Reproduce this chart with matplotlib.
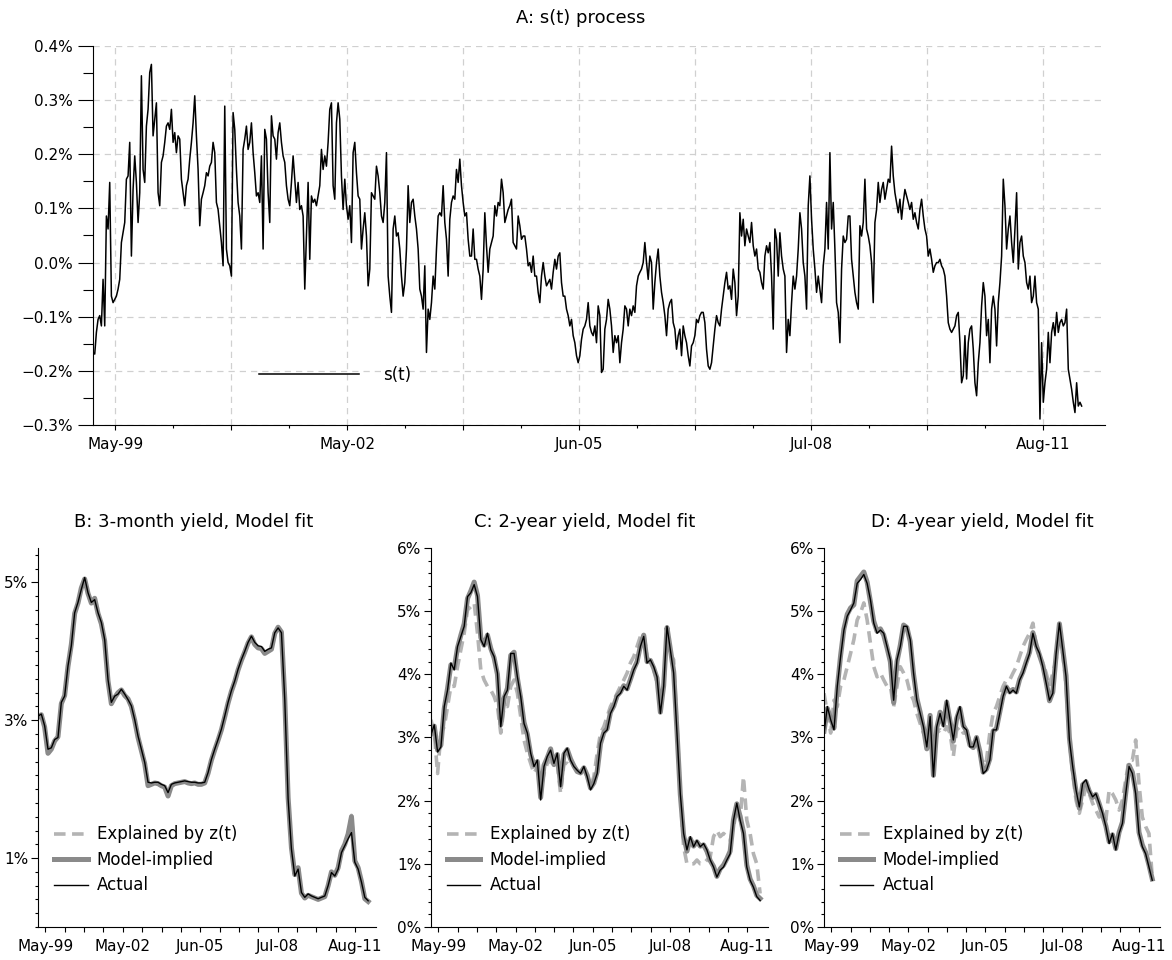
import matplotlib
matplotlib.use("Agg")
import matplotlib.pyplot as plt
import matplotlib.dates as mdates
from matplotlib.ticker import FixedLocator, FixedFormatter, MultipleLocator, FuncFormatter
import numpy as np
import pandas as pd

plt.rcParams["font.family"] = ["DejaVu Sans"]

# sample range of the series and the labelled dates on the time axis
FIRST_DAY = "1999-01-21"
LAST_DAY = "2012-02-06"
AXIS_END = "2012-05-29"
TICK_DATES = ["1999-05-08", "2002-05-30", "2005-06-20", "2008-07-12", "2011-08-03"]
TICK_LABELS = ["May-99", "May-02", "Jun-05", "Jul-08", "Aug-11"]

# A: s(t) process, in percent
s_t = [
    -0.166, -0.169, -0.129, -0.105, -0.098, -0.117, -0.031, -0.117, 0.086, 0.062,
    0.148, -0.062, -0.074, -0.068, -0.062, -0.049, -0.031, 0.037, 0.055, 0.074,
    0.154, 0.160, 0.222, 0.012, 0.135, 0.197, 0.148, 0.074, 0.129, 0.345,
    0.172, 0.148, 0.252, 0.283, 0.351, 0.366, 0.234, 0.265, 0.295, 0.129,
    0.105, 0.185, 0.197, 0.222, 0.252, 0.258, 0.246, 0.283, 0.222, 0.240,
    0.203, 0.234, 0.228, 0.154, 0.129, 0.105, 0.142, 0.154, 0.191, 0.222,
    0.258, 0.308, 0.234, 0.172, 0.068, 0.117, 0.129, 0.142, 0.166, 0.160,
    0.178, 0.185, 0.222, 0.203, 0.111, 0.098, 0.068, 0.037, -0.006, 0.289,
    0.025, 0.000, -0.006, -0.025, 0.277, 0.246, 0.172, 0.111, 0.086, 0.025,
    0.209, 0.228, 0.252, 0.209, 0.222, 0.258, 0.203, 0.166, 0.123, 0.129,
    0.111, 0.197, 0.025, 0.246, 0.228, 0.129, 0.074, 0.271, 0.234, 0.228,
    0.191, 0.240, 0.258, 0.222, 0.197, 0.185, 0.142, 0.117, 0.105, 0.148,
    0.197, 0.154, 0.111, 0.148, 0.098, 0.105, 0.086, -0.049, 0.049, 0.148,
    0.006, 0.123, 0.111, 0.117, 0.105, 0.123, 0.142, 0.209, 0.172, 0.197,
    0.178, 0.222, 0.283, 0.295, 0.142, 0.117, 0.258, 0.295, 0.265, 0.160,
    0.098, 0.154, 0.105, 0.080,
    0.105, 0.037, 0.203, 0.222, 0.166, 0.123, 0.117, 0.025, 0.062, 0.092,
    0.049, -0.043, -0.012, 0.129, 0.123, 0.117, 0.178, 0.160, 0.129, 0.086,
    0.074, 0.111, 0.203, -0.025, -0.062, -0.092, 0.062, 0.086, 0.049, 0.055,
    0.025, -0.025, -0.062, -0.037, 0.025, 0.142, 0.074, 0.111, 0.117, 0.086,
    0.062, 0.025, -0.049, -0.062, -0.086, -0.006, -0.166, -0.086, -0.105, -0.074,
    -0.025, -0.049, 0.025, 0.086, 0.092, 0.086, 0.142, 0.074, 0.043, -0.025,
    0.080, 0.111, 0.123, 0.117, 0.172, 0.148, 0.191, 0.142, 0.111, 0.086,
    0.092, 0.043, 0.012, 0.012, 0.062, 0.006, 0.006, -0.012, -0.025, -0.068,
    -0.012, 0.092, 0.031, -0.018, 0.025, 0.037, 0.049, 0.105, 0.086, 0.111,
    0.105, 0.154, 0.129, 0.074, 0.086, 0.098, 0.105, 0.117, 0.037, 0.031,
    0.025, 0.086, 0.068, 0.043, 0.049, 0.049, 0.025, -0.006, 0.000, -0.018,
    0.012, -0.025, -0.025, -0.055, -0.074, -0.025, 0.000, -0.025, -0.043, -0.037,
    -0.031, -0.049, -0.018, 0.006, -0.012, 0.012, 0.018, -0.037, -0.062, -0.062,
    -0.086, -0.098, -0.117, -0.105, -0.135, -0.148, -0.172, -0.185, -0.172, -0.142,
    -0.123, -0.117, -0.105, -0.074, -0.117, -0.129, -0.135, -0.117, -0.148, -0.080,
    -0.098, -0.203, -0.197, -0.123, -0.105, -0.068, -0.086, -0.117, -0.166, -0.135,
    -0.148, -0.135, -0.185, -0.148, -0.123, -0.080, -0.086, -0.117, -0.086, -0.098,
    -0.080, -0.092, -0.043, -0.025, -0.018, -0.012, 0.000, 0.037, 0.000, -0.031,
    0.012, 0.000, -0.086, -0.037, 0.000, 0.025, -0.025, -0.055, -0.074, -0.098,
    -0.135, -0.086, -0.074, -0.068, -0.111, -0.123, -0.160, -0.135, -0.123, -0.172,
    -0.117, -0.135, -0.148, -0.172, -0.191, -0.154, -0.148, -0.135, -0.105, -0.111,
    -0.098, -0.092, -0.092, -0.111, -0.160, -0.191, -0.197, -0.185, -0.154, -0.123,
    -0.098, -0.111, -0.117, -0.086, -0.062, -0.037, -0.018, -0.049, -0.043, -0.068,
    -0.012, -0.037, -0.098, -0.062, 0.092, 0.049, 0.080, 0.031, 0.062, 0.049,
    0.037, 0.074, 0.031, 0.012, 0.025, -0.012, -0.018, -0.037, -0.049, 0.012,
    0.031, 0.018, 0.037, -0.025, -0.123, 0.062, 0.043, -0.025, 0.055, 0.012,
    -0.012, -0.025, -0.166, -0.105, -0.135, -0.074, -0.025, -0.049, -0.025, 0.025,
    0.092, 0.062, 0.000, -0.025, -0.086, 0.105, 0.160, 0.080, 0.025, -0.012,
    -0.055, -0.025, -0.049, -0.074, -0.006, 0.025, 0.111, 0.025, 0.203, 0.062,
    0.111, 0.025, -0.074, -0.092, -0.148, -0.012, 0.049, 0.037, 0.043, 0.086,
    0.086, 0.006, -0.025, -0.055, -0.074, -0.086, 0.068, 0.049, 0.074, 0.154,
    0.062, 0.049, 0.031, 0.000, -0.074, 0.074, 0.098, 0.148, 0.111, 0.135,
    0.148, 0.117, 0.135, 0.154, 0.148, 0.215, 0.160, 0.129, 0.111, 0.092,
    0.117, 0.080, 0.111, 0.135, 0.123, 0.111, 0.098, 0.111, 0.080, 0.092,
    0.074, 0.062, 0.098, 0.117, 0.086, 0.062, 0.049, 0.012, 0.025, 0.006,
    -0.018, -0.006, 0.000, 0.000, 0.006, -0.006, -0.012, -0.025, -0.062, -0.111,
    -0.123, -0.129, -0.123, -0.117, -0.098, -0.092, -0.148, -0.222, -0.209, -0.135,
    -0.215, -0.148, -0.123, -0.117, -0.160, -0.222, -0.246, -0.185, -0.148, -0.080,
    -0.037, -0.062, -0.135, -0.105, -0.185, -0.086, -0.062, -0.086, -0.154, -0.074,
    -0.037, 0.012, 0.154, 0.105, 0.025, 0.062, 0.086, 0.037, 0.000, 0.062,
    0.129, -0.012, 0.037, 0.049, 0.012, 0.000, -0.037, -0.049, -0.025, -0.074,
    -0.062, -0.025, -0.074, -0.086, -0.289, -0.148, -0.258, -0.222, -0.197, -0.129,
    -0.185, -0.129, -0.111, -0.135, -0.092, -0.129, -0.111, -0.105, -0.117, -0.111,
    -0.086, -0.197, -0.215, -0.234, -0.258, -0.277, -0.222, -0.265, -0.258, -0.265,
]

# B: 3-month yield (%)
b_actual = [
    3.06, 3.09, 2.92, 2.58, 2.60, 2.72, 2.75, 3.26, 3.35, 3.79,
    4.08, 4.56, 4.71, 4.90, 5.07, 4.85, 4.71, 4.75, 4.56, 4.42,
    4.17, 3.59, 3.26, 3.35, 3.38, 3.45, 3.38, 3.30, 3.21, 3.01,
    2.77, 2.58, 2.39, 2.10, 2.09, 2.10, 2.10, 2.07, 2.05, 1.95,
    2.07, 2.09, 2.10, 2.11, 2.12, 2.11, 2.10, 2.10, 2.09, 2.09,
    2.10, 2.24, 2.43, 2.58, 2.72, 2.87, 3.06, 3.26, 3.43, 3.57,
    3.74, 3.88, 4.00, 4.13, 4.22, 4.13, 4.08, 4.07, 4.00, 4.03,
    4.05, 4.27, 4.34, 4.27, 3.30, 1.86, 1.13, 0.74, 0.84, 0.50,
    0.43, 0.48, 0.45, 0.43, 0.41, 0.43, 0.45, 0.60, 0.79, 0.74,
    0.84, 1.08, 1.18, 1.28, 1.37, 0.94, 0.84, 0.65, 0.43, 0.38,
]
b_model = [
    3.04, 3.08, 2.90, 2.52, 2.58, 2.70, 2.76, 3.24, 3.36, 3.78,
    4.10, 4.55, 4.70, 4.92, 5.05, 4.84, 4.70, 4.77, 4.55, 4.40,
    4.15, 3.57, 3.24, 3.33, 3.40, 3.44, 3.36, 3.31, 3.20, 3.00,
    2.75, 2.56, 2.37, 2.05, 2.07, 2.09, 2.08, 2.05, 2.03, 1.90,
    2.05, 2.08, 2.09, 2.10, 2.11, 2.09, 2.08, 2.09, 2.07, 2.07,
    2.09, 2.23, 2.42, 2.57, 2.71, 2.86, 3.05, 3.25, 3.42, 3.56,
    3.73, 3.87, 3.99, 4.12, 4.21, 4.10, 4.05, 4.04, 3.97, 4.00,
    4.03, 4.26, 4.35, 4.28, 3.32, 1.88, 1.15, 0.76, 0.86, 0.49,
    0.42, 0.46, 0.44, 0.42, 0.40, 0.42, 0.44, 0.60, 0.80, 0.75,
    0.86, 1.10, 1.20, 1.35, 1.60, 0.96, 0.86, 0.66, 0.41, 0.37,
]
b_explained = [
    3.04, 3.08, 2.90, 2.52, 2.58, 2.70, 2.76, 3.24, 3.36, 3.78,
    4.10, 4.55, 4.70, 4.92, 5.05, 4.84, 4.70, 4.77, 4.55, 4.40,
    4.15, 3.57, 3.24, 3.33, 3.40, 3.44, 3.36, 3.31, 3.20, 3.00,
    2.75, 2.56, 2.37, 2.05, 2.07, 2.09, 2.08, 2.05, 2.03, 1.90,
    2.05, 2.08, 2.09, 2.10, 2.11, 2.09, 2.08, 2.09, 2.07, 2.07,
    2.09, 2.23, 2.42, 2.57, 2.71, 2.86, 3.05, 3.25, 3.42, 3.56,
    3.73, 3.87, 3.99, 4.12, 4.21, 4.10, 4.05, 4.04, 3.97, 4.00,
    4.03, 4.26, 4.35, 4.28, 3.32, 1.88, 1.15, 0.76, 0.86, 0.49,
    0.42, 0.46, 0.44, 0.42, 0.40, 0.42, 0.44, 0.60, 0.80, 0.75,
    0.86, 1.10, 1.20, 1.35, 1.62, 0.96, 0.86, 0.66, 0.41, 0.37,
]

# C: 2-year yield (%)
c_actual = [
    3.04, 3.20, 2.77, 2.85, 3.49, 3.75, 4.18, 4.07, 4.44, 4.60,
    4.76, 5.23, 5.29, 5.42, 5.23, 4.55, 4.44, 4.65, 4.39, 4.28,
    4.02, 3.17, 3.65, 3.75, 4.33, 4.33, 3.96, 3.65, 3.22, 3.07,
    2.75, 2.54, 2.64, 2.01, 2.54, 2.70, 2.80, 2.59, 2.75, 2.22,
    2.75, 2.83, 2.64, 2.54, 2.48, 2.43, 2.54, 2.38, 2.17, 2.27,
    2.43, 2.91, 3.07, 3.12, 3.38, 3.49, 3.65, 3.70, 3.81, 3.75,
    3.91, 4.07, 4.18, 4.44, 4.60, 4.18, 4.23, 4.12, 3.96, 3.38,
    3.81, 4.76, 4.39, 4.02, 3.07, 2.11, 1.48, 1.22, 1.43, 1.27,
    1.37, 1.27, 1.32, 1.22, 1.06, 0.95, 0.79, 0.90, 0.95, 1.06,
    1.16, 1.69, 1.96, 1.69, 1.48, 0.95, 0.74, 0.63, 0.48, 0.42,
]
c_model = [
    3.06, 3.18, 2.80, 2.88, 3.46, 3.78, 4.15, 4.10, 4.42, 4.62,
    4.80, 5.20, 5.32, 5.46, 5.25, 4.58, 4.46, 4.62, 4.41, 4.26,
    4.00, 3.20, 3.62, 3.78, 4.30, 4.35, 3.94, 3.62, 3.24, 3.05,
    2.73, 2.56, 2.62, 2.05, 2.56, 2.68, 2.82, 2.57, 2.73, 2.25,
    2.73, 2.81, 2.66, 2.55, 2.46, 2.44, 2.52, 2.40, 2.20, 2.28,
    2.46, 2.90, 3.08, 3.14, 3.40, 3.50, 3.66, 3.72, 3.82, 3.77,
    3.92, 4.08, 4.20, 4.45, 4.62, 4.20, 4.22, 4.10, 3.94, 3.40,
    3.82, 4.74, 4.40, 4.05, 3.10, 2.10, 1.45, 1.20, 1.40, 1.28,
    1.35, 1.28, 1.30, 1.20, 1.05, 0.96, 0.80, 0.92, 0.98, 1.08,
    1.20, 1.70, 1.95, 1.75, 1.50, 0.98, 0.76, 0.65, 0.50, 0.45,
]
c_explained = [
    3.28, 3.07, 2.43, 3.07, 3.17, 3.49, 3.81, 3.81, 4.12, 4.39,
    4.65, 5.02, 5.07, 5.13, 4.65, 4.07, 3.91, 3.81, 3.75, 3.65,
    3.49, 3.07, 3.49, 3.49, 3.81, 3.91, 3.70, 3.33, 2.96, 2.75,
    2.59, 2.43, 2.54, 2.17, 2.43, 2.59, 2.64, 2.54, 2.59, 2.11,
    2.59, 2.59, 2.54, 2.54, 2.48, 2.43, 2.48, 2.38, 2.22, 2.38,
    2.75, 3.07, 3.17, 3.33, 3.49, 3.59, 3.70, 3.81, 3.91, 4.02,
    4.18, 4.28, 4.44, 4.60, 4.65, 4.28, 4.18, 4.07, 3.86, 3.54,
    3.81, 4.65, 4.33, 4.23, 3.17, 2.11, 1.27, 1.00, 1.00, 1.00,
    1.06, 1.00, 1.00, 1.06, 1.11, 1.43, 1.53, 1.43, 1.48, 1.43,
    1.37, 1.59, 1.85, 1.69, 2.38, 1.69, 1.48, 1.16, 1.00, 0.53,
]

# D: 4-year yield (%)
d_actual = [
    3.07, 3.49, 3.28, 3.12, 3.81, 4.28, 4.70, 4.92, 5.02, 5.13,
    5.44, 5.50, 5.58, 5.44, 5.18, 4.81, 4.65, 4.70, 4.65, 4.44,
    4.23, 3.59, 4.23, 4.44, 4.76, 4.76, 4.55, 4.02, 3.59, 3.38,
    3.17, 2.85, 3.33, 2.38, 3.17, 3.38, 3.17, 3.59, 3.28, 2.96,
    3.33, 3.49, 3.17, 3.12, 2.85, 2.85, 3.01, 2.75, 2.43, 2.48,
    2.64, 3.12, 3.12, 3.38, 3.65, 3.81, 3.70, 3.75, 3.70, 3.91,
    4.02, 4.18, 4.33, 4.65, 4.44, 4.33, 4.12, 3.86, 3.59, 3.70,
    4.33, 4.81, 4.39, 3.96, 2.96, 2.54, 2.17, 1.90, 2.27, 2.33,
    2.17, 2.06, 2.11, 1.96, 1.80, 1.59, 1.32, 1.48, 1.22, 1.48,
    1.64, 2.11, 2.54, 2.43, 2.11, 1.48, 1.27, 1.16, 0.95, 0.74,
]
d_model = [
    3.10, 3.46, 3.30, 3.15, 3.78, 4.30, 4.72, 4.95, 5.05, 5.10,
    5.48, 5.55, 5.62, 5.46, 5.15, 4.84, 4.68, 4.72, 4.62, 4.42,
    4.20, 3.55, 4.20, 4.46, 4.78, 4.74, 4.52, 4.00, 3.62, 3.40,
    3.15, 2.82, 3.35, 2.40, 3.15, 3.40, 3.20, 3.56, 3.26, 2.94,
    3.30, 3.46, 3.19, 3.10, 2.88, 2.84, 3.00, 2.78, 2.45, 2.50,
    2.66, 3.10, 3.14, 3.40, 3.66, 3.80, 3.72, 3.76, 3.72, 3.92,
    4.04, 4.20, 4.35, 4.66, 4.46, 4.30, 4.14, 3.88, 3.58, 3.72,
    4.30, 4.80, 4.40, 3.98, 3.00, 2.52, 2.15, 1.88, 2.25, 2.30,
    2.15, 2.05, 2.10, 1.95, 1.78, 1.60, 1.35, 1.46, 1.24, 1.50,
    1.66, 2.12, 2.56, 2.45, 2.15, 1.50, 1.30, 1.18, 0.98, 0.76,
]
d_explained = [
    3.70, 3.38, 3.07, 3.59, 3.49, 3.81, 3.91, 4.12, 4.33, 4.55,
    4.86, 4.97, 5.13, 4.86, 4.49, 4.12, 3.96, 4.02, 3.91, 3.81,
    3.81, 3.49, 3.81, 4.12, 4.02, 3.91, 3.70, 3.59, 3.38, 3.22,
    3.07, 2.96, 3.07, 2.59, 3.07, 3.12, 3.07, 3.17, 3.07, 2.70,
    3.12, 3.17, 3.07, 3.07, 2.96, 2.91, 2.96, 2.75, 2.54, 2.64,
    3.07, 3.38, 3.49, 3.65, 3.81, 3.91, 3.91, 4.02, 4.12, 4.28,
    4.44, 4.55, 4.65, 4.81, 4.44, 4.28, 4.18, 4.02, 3.81, 4.02,
    4.23, 4.65, 4.33, 3.81, 2.96, 2.43, 2.01, 1.80, 2.01, 2.22,
    2.11, 1.96, 1.85, 1.74, 1.80, 1.69, 2.17, 2.11, 2.01, 1.85,
    2.01, 2.33, 2.64, 2.64, 2.96, 2.27, 1.74, 1.59, 1.48, 0.79,
]


def pct(v, _pos=None):
    v = round(v, 2)
    if abs(v) < 1e-9:
        v = 0.0
    return f"{v:.1f}%".replace("-", "\u2212")


tick_nums = mdates.date2num(pd.to_datetime(TICK_DATES))
halves = np.linspace(tick_nums[0], tick_nums[-1], 9)
quarters = np.linspace(tick_nums[0], tick_nums[-1], 17)
x_lo = pd.Timestamp(FIRST_DAY)
x_hi = pd.Timestamp(AXIS_END)

fig = plt.figure(figsize=(11.72, 9.6), dpi=100)

# --- top panel
ax = fig.add_axes([0.0794, 0.5573, 0.8635, 0.3948])
s_dates = pd.date_range(FIRST_DAY, LAST_DAY, periods=len(s_t))
ax.plot(s_dates, s_t, color="black", lw=1.1, label="s(t)")
ax.set_xlim(x_lo, x_hi)
ax.set_ylim(-0.3, 0.4)
ax.xaxis.set_major_locator(FixedLocator(halves))
ax.xaxis.set_major_formatter(FixedFormatter(
    [TICK_LABELS[i // 2] if i % 2 == 0 else "" for i in range(9)]))
ax.xaxis.set_minor_locator(FixedLocator(quarters[1::2]))
ax.yaxis.set_major_locator(MultipleLocator(0.1))
ax.yaxis.set_minor_locator(MultipleLocator(0.05))
ax.yaxis.set_major_formatter(FuncFormatter(pct))
ax.tick_params(axis="y", which="major", length=10.5, width=0.8, labelsize=11, pad=4)
ax.tick_params(axis="y", which="minor", length=7, width=0.8)
ax.tick_params(axis="x", which="major", length=3.6, width=0.8, labelsize=11, pad=5)
ax.tick_params(axis="x", which="minor", length=2.2, width=0.8)
ax.grid(True, which="major", color="#d0d0d0", ls=(0, (5, 4)), lw=0.9)
ax.set_axisbelow(True)
for side in ("top", "right"):
    ax.spines[side].set_visible(False)
for side in ("left", "bottom"):
    ax.spines[side].set_linewidth(0.8)
ax.legend(loc="center left", bbox_to_anchor=(0.164, 0.132), frameon=False,
          fontsize=12, handlelength=6.0, handletextpad=1.45,
          borderpad=0, borderaxespad=0)
fig.text(581 / 1172, 1 - 18 / 960, "A: s(t) process", ha="center", va="center", fontsize=13)


def yield_panel(rect, title, title_x, explained, model, actual, top, labelled):
    axp = fig.add_axes(rect)
    d = pd.date_range(FIRST_DAY, LAST_DAY, periods=len(actual))
    axp.plot(d, explained, color="#b4b4b4", lw=2.6, ls=(0, (3.2, 1.8)), label="Explained by z(t)")
    axp.plot(d, model, color="#8a8a8a", lw=3.6, label="Model-implied")
    axp.plot(d, actual, color="black", lw=1.0, label="Actual")
    axp.set_xlim(x_lo, x_hi)
    axp.set_ylim(0, top)
    axp.xaxis.set_major_locator(FixedLocator(quarters))
    axp.xaxis.set_major_formatter(FixedFormatter(
        [TICK_LABELS[i // 4] if i % 4 == 0 else "" for i in range(17)]))
    axp.yaxis.set_major_locator(FixedLocator(labelled))
    axp.yaxis.set_major_formatter(FixedFormatter([f"{v:g}%" for v in labelled]))
    axp.yaxis.set_minor_locator(MultipleLocator(0.2))
    axp.tick_params(axis="y", which="major", length=5, width=0.8, labelsize=11, pad=2)
    axp.tick_params(axis="y", which="minor", length=2.5, width=0.8)
    axp.tick_params(axis="x", which="major", length=3.6, width=0.8, labelsize=11, pad=5)
    for side in ("top", "right"):
        axp.spines[side].set_visible(False)
    for side in ("left", "bottom"):
        axp.spines[side].set_linewidth(0.8)
    axp.legend(loc="center left", bbox_to_anchor=(0.048, 0.177), frameon=False,
               fontsize=12, handlelength=2.0, handletextpad=0.55, labelspacing=0.45,
               borderpad=0, borderaxespad=0)
    fig.text(title_x / 1172, 1 - 522 / 960, title, ha="center", va="center", fontsize=13)
    return axp


yield_panel([0.0324, 0.0344, 0.2884, 0.3948], "B: 3-month yield, Model fit", 194,
            b_explained, b_model, b_actual, 5.5, [1, 3, 5])
yield_panel([0.3677, 0.0344, 0.2875, 0.3948], "C: 2-year yield, Model fit", 585,
            c_explained, c_model, c_actual, 6.0, [0, 1, 2, 3, 4, 5, 6])
yield_panel([0.7031, 0.0344, 0.2867, 0.3948], "D: 4-year yield, Model fit", 982,
            d_explained, d_model, d_actual, 6.0, [0, 1, 2, 3, 4, 5, 6])

fig.savefig("out.png", dpi=100)
